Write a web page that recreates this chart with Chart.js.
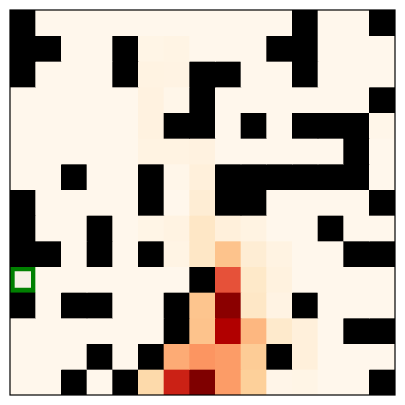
<!DOCTYPE html>
<html>
<head>
<meta charset="utf-8">
<script src="https://cdn.jsdelivr.net/npm/chart.js@4/dist/chart.umd.min.js"></script>
<style>
html,body{margin:0;padding:0;background:#ffffff;}
#wrap{width:405px;height:405px;}
</style>
</head>
<body>
<div id="wrap"><canvas id="c" width="405" height="405"></canvas></div>
<script>
// ---- data ----
const colLabels = ["0","1","2","3","4","5","6","7","8","9","10","11","12","13","14"];
const rowLabels = ["0","1","2","3","4","5","6","7","8","9","10","11","12","13","14"];

// visit intensity per cell (row 0 = top), 0..1
const visitValues = [
  [0,0,0,0,0,0,0,0,0,0,0,0,0,0,0],
  [0,0,0,0,0,0.02,0.028,0,0,0,0,0,0,0,0],
  [0,0,0,0,0,0.035,0.03,0,0,0,0,0,0,0,0],
  [0,0,0,0,0,0.042,0.01,0,0,0,0,0,0,0,0],
  [0,0,0,0,0,0.04,0,0,0,0,0,0,0,0,0.01],
  [0,0,0,0,0,0.035,0.035,0.042,0,0,0,0,0,0,0],
  [0,0,0,0,0,0,0.01,0.06,0,0,0,0,0,0,0],
  [0,0,0,0,0,0,0,0.083,0,0,0,0,0,0,0],
  [0,0,0,0,0,0.02,0.035,0.13,0.06,0.035,0,0,0,0,0],
  [0,0,0,0,0,0,0.028,0.13,0.335,0.083,0.035,0,0,0,0],
  [0,0,0,0,0,0,0,0,0.672,0.12,0.045,0,0,0,0],
  [0,0,0,0,0,0,0,0.325,0.97,0.13,0.03,0,0,0,0],
  [0,0,0,0,0,0,0,0.335,0.88,0.386,0.11,0.06,0,0,0],
  [0,0,0,0,0,0,0.418,0.478,0.46,0.29,0,0.06,0,0,0],
  [0,0,0,0,0,0.21,0.79,1.0,0.46,0.27,0.015,0.02,0,0,0]
];

// wall cells [row, col]
const wallCells = [
  [0,0],[0,11],[0,14],
  [1,0],[1,1],[1,4],[1,10],[1,11],
  [2,0],[2,4],[2,7],[2,8],[2,11],
  [3,7],[3,14],
  [4,6],[4,7],[4,9],[4,11],[4,12],[4,13],
  [5,13],
  [6,2],[6,5],[6,8],[6,9],[6,10],[6,11],[6,12],[6,13],
  [7,0],[7,5],[7,8],[7,9],[7,14],
  [8,0],[8,3],[8,12],
  [9,0],[9,1],[9,3],[9,5],[9,13],[9,14],
  [10,7],
  [11,0],[11,2],[11,3],[11,6],[11,11],
  [12,6],[12,13],[12,14],
  [13,3],[13,5],[13,10],
  [14,2],[14,4],[14,14]
];

const startCell = [10, 0];

// ---- colour map (OrRd) ----
const orrd = ["#fff7ec","#fee8c8","#fdd49e","#fdbb84","#fc8d59","#ef6548","#d7301f","#b30000","#7f0000"];
function hex2rgb(h){return [parseInt(h.substr(1,2),16),parseInt(h.substr(3,2),16),parseInt(h.substr(5,2),16)];}
function cmap(v){
  v = Math.max(0, Math.min(1, v));
  const p = v*(orrd.length-1);
  const i = Math.min(orrd.length-2, Math.floor(p));
  const t = p - i;
  const a = hex2rgb(orrd[i]), b = hex2rgb(orrd[i+1]);
  const c = a.map((x,k)=>Math.round(x+(b[k]-x)*t));
  return `rgb(${c[0]},${c[1]},${c[2]})`;
}
const isWall = (r,c)=>wallCells.some(w=>w[0]===r&&w[1]===c);
const isStart = (r,c)=>r===startCell[0]&&c===startCell[1];

const datasets = rowLabels.map((rl, r) => ({
  label: "row " + rl,
  data: colLabels.map(() => 1),
  backgroundColor: colLabels.map((cl, c) => isWall(r,c) ? "#000000" : (isStart(r,c) ? "#f6f1e6" : cmap(visitValues[r][c]))),
  borderColor: colLabels.map((cl, c) => isStart(r,c) ? "#008000" : "rgba(0,0,0,0)"),
  borderWidth: colLabels.map((cl, c) => isStart(r,c) ? 5 : 0),
  borderSkipped: false,
  barPercentage: 1,
  categoryPercentage: 1,
  stack: "grid"
}));

const framePlugin = {
  id: "frame",
  afterDraw(chart){
    const a = chart.chartArea, ctx = chart.ctx;
    ctx.save();
    ctx.strokeStyle = "#000";
    ctx.lineWidth = 1.2;
    ctx.strokeRect(a.left, a.top, a.right - a.left, a.bottom - a.top);
    ctx.restore();
  }
};

new Chart(document.getElementById("c"), {
  type: "bar",
  data: { labels: colLabels, datasets },
  options: {
    responsive: false,
    animation: false,
    layout: { padding: { left: 10, top: 10, right: 10, bottom: 10 } },
    plugins: { legend: { display: false }, tooltip: { enabled: false } },
    scales: {
      x: { stacked: true, display: false, offset: true, grid: { display: false } },
      y: { stacked: true, display: false, reverse: true, min: 0, max: 15, grid: { display: false } }
    }
  },
  plugins: [framePlugin]
});
</script>
</body>
</html>
